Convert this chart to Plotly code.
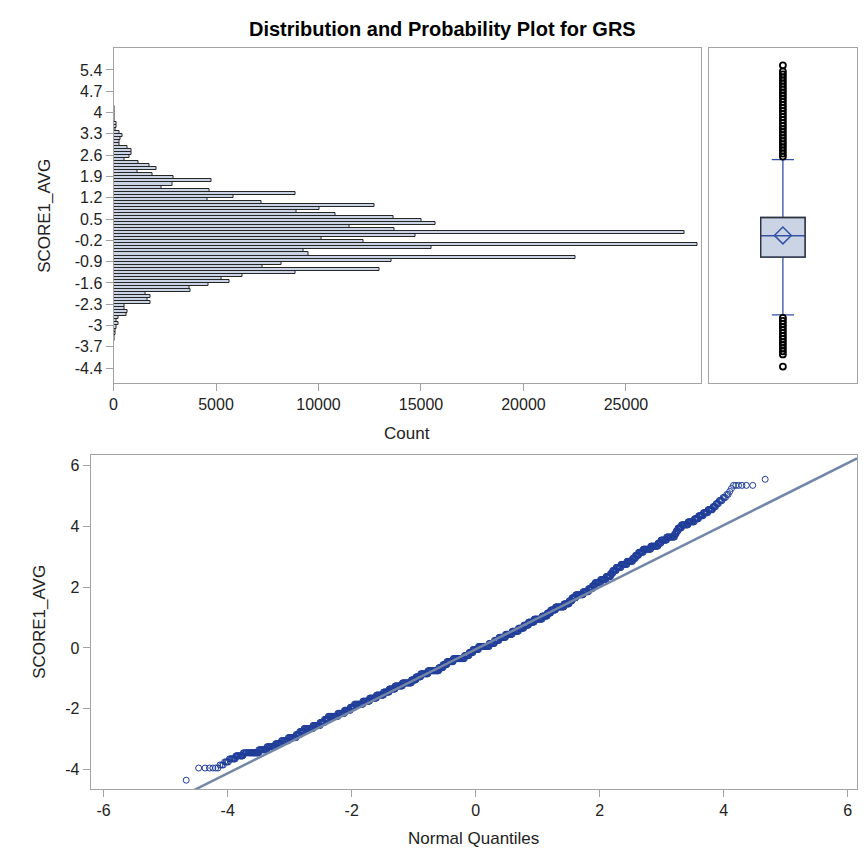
import numpy as np
from statistics import NormalDist
import plotly.graph_objects as go

# ---------------- data ----------------
bin_mids = [5.55, 5.45, 5.35, 5.25, 5.15, 5.05, 4.95, 4.85, 4.75, 4.65,
            4.55, 4.45, 4.35, 4.25, 4.15, 4.05, 3.95, 3.85, 3.75, 3.65,
            3.55, 3.45, 3.35, 3.25, 3.15, 3.05, 2.95, 2.85, 2.75, 2.65,
            2.55, 2.45, 2.35, 2.25, 2.15, 2.05, 1.95, 1.85, 1.75, 1.65,
            1.55, 1.45, 1.35, 1.25, 1.15, 1.05, 0.95, 0.85, 0.75, 0.65,
            0.55, 0.45, 0.35, 0.25, 0.15, 0.05, -0.05, -0.15, -0.25, -0.35,
            -0.45, -0.55, -0.65, -0.75, -0.85, -0.95, -1.05, -1.15, -1.25, -1.35,
            -1.45, -1.55, -1.65, -1.75, -1.85, -1.95, -2.05, -2.15, -2.25, -2.35,
            -2.45, -2.55, -2.65, -2.75, -2.85, -2.95, -3.05, -3.15, -3.25, -3.35,
            -3.45, -3.55, -3.65, -3.75, -3.85, -3.95, -4.05, -4.15, -4.25, -4.35]
bin_counts = [1, 0, 6, 1, 1, 2, 3, 4, 4, 5,
              10, 13, 17, 20, 40, 60, 40, 25, 25, 150,
              150, 100, 300, 440, 350, 280, 300, 680, 900, 900,
              760, 520, 1200, 1750, 2080, 1150, 1900, 2950, 4800, 2860,
              2360, 4700, 8870, 5860, 4580, 7220, 12750, 10030, 8930, 10830,
              13650, 15050, 15710, 11490, 13720, 27880, 14720, 10160, 12220, 28480,
              15500, 9250, 9510, 22560, 13540, 8200, 7280, 13000, 8900, 6310,
              5290, 5680, 4640, 3710, 3770, 1540, 1810, 1670, 1810, 550,
              550, 700, 620, 230, 160, 260, 160, 100, 100, 60,
              60, 14, 8, 4, 3, 6, 0, 0, 0, 1]

hist_y_ticks = [5.4, 4.7, 4, 3.3, 2.6, 1.9, 1.2, 0.5, -0.2, -0.9, -1.6, -2.3, -3, -3.7, -4.4]
hist_y_ticktext = ["5.4", "4.7", "4", "3.3", "2.6", "1.9", "1.2", "0.5", "-0.2", "-0.9",
                   "-1.6", "-2.3", "-3", "-3.7", "-4.4"]
count_ticks = [0, 5000, 10000, 15000, 20000, 25000]
count_ticktext = ["0", "5000", "10000", "15000", "20000", "25000"]
qq_ticks = [-6, -4, -2, 0, 2, 4, 6]
qq_ticktext = ["-6", "-4", "-2", "0", "2", "4", "6"]
qq_y_ticks = [-4, -2, 0, 2, 4, 6]
qq_y_ticktext = ["-4", "-2", "0", "2", "4", "6"]

# axis ranges
value_range = [-4.89, 6.12]
count_range = [0, 28650]
qq_x_range = [-6.21, 6.15]
qq_y_range = [-4.64, 6.35]

# ---------------- derived statistics ----------------
mids = np.array(bin_mids)
cnts = np.array(bin_counts)
order = np.argsort(mids)
mids_a = mids[order]
cnts_a = cnts[order]
data = np.repeat(mids_a, cnts_a)
N = data.size
q1, med, q3 = np.percentile(data, [25, 50, 75])
mean = data.mean()
sd = data.std(ddof=1)
iqr = q3 - q1
hi_fence = q3 + 1.5 * iqr
lo_fence = q1 - 1.5 * iqr
whisk_hi = data[data <= hi_fence].max()
whisk_lo = data[data >= lo_fence].min()
out_vals = [m for m, c in zip(mids_a, cnts_a) if c > 0 and (m > whisk_hi or m < whisk_lo)]

# QQ points: sample observation ranks of the sorted data
nd = NormalDist()
cum = np.cumsum(cnts_a)
qq_x, qq_y = [], []
start = 1
for m, c, e in zip(mids_a, cnts_a, cum):
    if c == 0:
        continue
    a, b = start, int(e)
    qa = nd.inv_cdf((a - 0.375) / (N + 0.25))
    qb = nd.inv_cdf((b - 0.375) / (N + 0.25))
    npts = int(min(c, max(2, np.ceil((qb - qa) / 0.01) + 1)))
    ranks = np.unique(np.round(np.linspace(a, b, npts)).astype(int))
    for r in ranks:
        qq_x.append(nd.inv_cdf((r - 0.375) / (N + 0.25)))
        qq_y.append(m)
    start = b + 1

# ---------------- figure ----------------
# the page body has an 8px margin, so the figure is placed 8px in from the window edge
OFF = 8
W, H = 866 - OFF, 867 - OFF
def px(x):
    return (x - OFF) / W
def py(y):
    return 1 - (y - OFF) / H

FONT = "Liberation Sans, Arial, sans-serif"
AXC = "#a3a3a3"
TXT = "#222222"
BLUE = "#3452a4"

fig = go.Figure()

fig.add_trace(go.Bar(
    y=mids, x=cnts, orientation="h", width=0.1,
    marker=dict(color="#c9d3e4", line=dict(color="#262626", width=1)),
    xaxis="x", yaxis="y", hoverinfo="skip"))

box_w = 0.6
fig.add_trace(go.Box(
    x=[0], q1=[q1], median=[med], q3=[q3],
    lowerfence=[whisk_lo], upperfence=[whisk_hi],
    width=box_w, whiskerwidth=0.5, boxpoints=False,
    fillcolor="#cad4e5", line=dict(color=BLUE, width=1.3),
    xaxis="x2", yaxis="y2"))

fig.add_trace(go.Scatter(
    x=[0] * len(out_vals), y=out_vals, mode="markers",
    marker=dict(symbol="circle-open", size=6, color="#000000", line=dict(width=1.8)),
    xaxis="x2", yaxis="y2"))

fig.add_trace(go.Scatter(
    x=[0], y=[mean], mode="markers",
    marker=dict(symbol="diamond-open", size=13, color=BLUE, line=dict(width=1.5)),
    xaxis="x2", yaxis="y2"))

fig.add_shape(type="rect", xref="x2", yref="y2",
              x0=-box_w / 2, x1=box_w / 2, y0=q1, y1=q3,
              line=dict(color="#333333", width=1.3), fillcolor="rgba(0,0,0,0)", layer="above")

fig.add_trace(go.Scatter(
    x=qq_x, y=qq_y, mode="markers",
    marker=dict(symbol="circle-open", size=6, color="#1f3d99", line=dict(width=1)),
    xaxis="x3", yaxis="y3"))

fig.add_trace(go.Scatter(
    x=qq_x_range, y=[mean + sd * v for v in qq_x_range], mode="lines",
    line=dict(color="#7386a8", width=2.5),
    xaxis="x3", yaxis="y3"))

axis_common = dict(showline=True, linecolor=AXC, linewidth=1, mirror=True,
                   showgrid=False, zeroline=False, ticks="outside", ticklen=7,
                   tickcolor=AXC, tickfont=dict(family=FONT, size=16, color=TXT))

fig.update_layout(
    width=W, height=H, margin=dict(l=0, r=0, t=0, b=0),
    paper_bgcolor="white", plot_bgcolor="white", showlegend=False,
    bargap=0,
    xaxis=dict(domain=[px(110), px(700)], range=count_range, tickvals=count_ticks,
               ticktext=count_ticktext, anchor="y", **axis_common),
    yaxis=dict(domain=[py(383), py(48)], range=value_range, tickvals=hist_y_ticks,
               ticktext=hist_y_ticktext, anchor="x", **axis_common),
    xaxis2=dict(domain=[px(708), px(857)], range=[-1, 1], showticklabels=False,
                ticks="", showline=True, linecolor=AXC, mirror=True, showgrid=False,
                zeroline=False, anchor="y2"),
    yaxis2=dict(domain=[py(383), py(48)], range=value_range, showticklabels=False,
                ticks="", showline=True, linecolor=AXC, mirror=True, showgrid=False,
                zeroline=False, anchor="x2"),
    xaxis3=dict(domain=[px(87), px(857)], range=qq_x_range, tickvals=qq_ticks,
                ticktext=qq_ticktext, anchor="y3", **axis_common),
    yaxis3=dict(domain=[py(789), py(455)], range=qq_y_range, tickvals=qq_y_ticks,
                ticktext=qq_y_ticktext, anchor="x3", **axis_common),
)

ann = [
    dict(text="<b>Distribution and Probability Plot for GRS</b>", x=px(441), y=py(29),
         font=dict(family=FONT, size=20, color="#000000")),
    dict(text="Count", x=px(405), y=py(433), font=dict(family=FONT, size=17, color=TXT)),
    dict(text="SCORE1_AVG", x=px(40), y=py(216), textangle=-90,
         font=dict(family=FONT, size=17, color=TXT)),
    dict(text="SCORE1_AVG", x=px(35), y=py(622), textangle=-90,
         font=dict(family=FONT, size=17, color=TXT)),
    dict(text="Normal Quantiles", x=px(472), y=py(838), font=dict(family=FONT, size=17, color=TXT)),
]
for a in ann:
    fig.add_annotation(xref="paper", yref="paper", showarrow=False,
                       xanchor="center", yanchor="middle", **a)

fig.write_html("out.html")
